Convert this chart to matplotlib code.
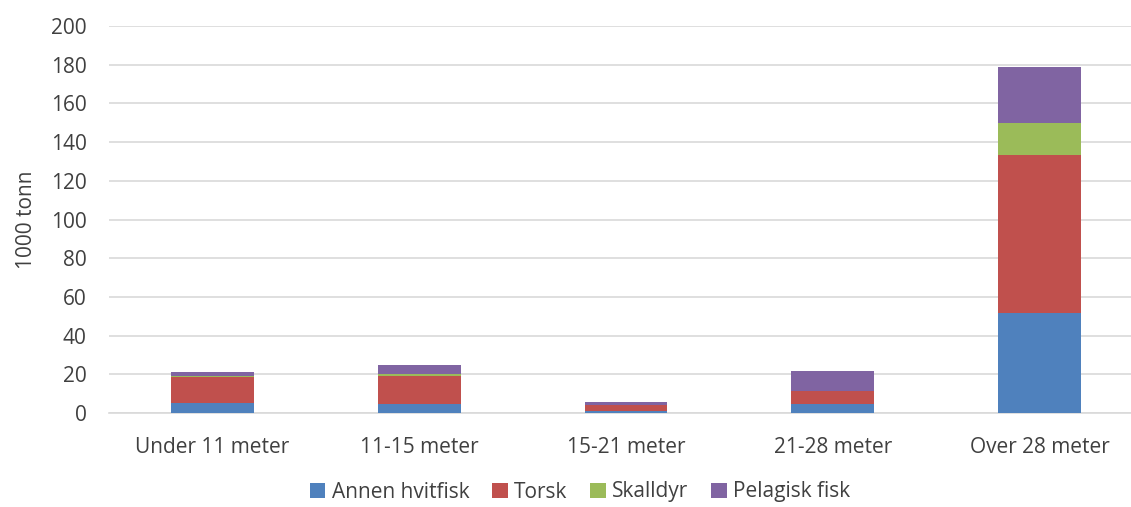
import numpy as np
import matplotlib.pyplot as plt

categories = ['Under 11 meter', '11-15 meter', '15-21 meter', '21-28 meter', 'Over 28 meter']
annen = [5.0, 4.6, 1.2, 4.5, 51.7]
torsk = [13.4, 14.3, 2.7, 6.9, 81.4]
skalldyr = [0.5, 1.1, 0.0, 0.0, 16.9]
pelagisk = [2.1, 4.8, 1.6, 10.1, 28.8]

series = [('Annen hvitfisk', annen, '#4f81bd'),
          ('Torsk', torsk, '#c0504d'),
          ('Skalldyr', skalldyr, '#9bbb59'),
          ('Pelagisk fisk', pelagisk, '#8064a2')]

plt.rcParams['font.family'] = ['Open Sans', 'DejaVu Sans']

fig = plt.figure(figsize=(11.31, 5.07), dpi=100)
W, H = 1131, 507
ax = fig.add_axes([109 / W, 1 - 413 / H, (1143 - 109) / W, (413 - 26) / H])

x = np.arange(len(categories))
bottom = np.zeros(len(categories))
for name, vals, col in series:
    ax.bar(x, vals, 0.4, bottom=bottom, color=col, label=name, zorder=3)
    bottom += np.array(vals)

ax.set_xlim(-0.5, 4.5)
ax.set_ylim(0, 200)
ax.set_yticks(range(0, 201, 20))
ax.grid(axis='y', color='#d9d9d9', linewidth=1.2, zorder=0)
for s in ['top', 'right', 'left']:
    ax.spines[s].set_visible(False)
ax.spines['bottom'].set_color('#d9d9d9')
ax.spines['bottom'].set_linewidth(1.2)
ax.tick_params(axis='both', length=0, labelsize=15, colors='#404040')
ax.tick_params(axis='x', pad=17)
ax.tick_params(axis='y', pad=16)
ax.set_xticks(x)
ax.set_xticklabels(categories)
ax.set_ylabel('1000 tonn', fontsize=15, color='#404040', labelpad=10)

fig.legend(loc='center', bbox_to_anchor=(580 / W, 1 - 492 / H), ncol=4, frameon=False,
           fontsize=15, handlelength=0.75, handleheight=0.75, handletextpad=0.3,
           columnspacing=1.1, labelcolor='#404040')

fig.savefig('out.png', dpi=100)
